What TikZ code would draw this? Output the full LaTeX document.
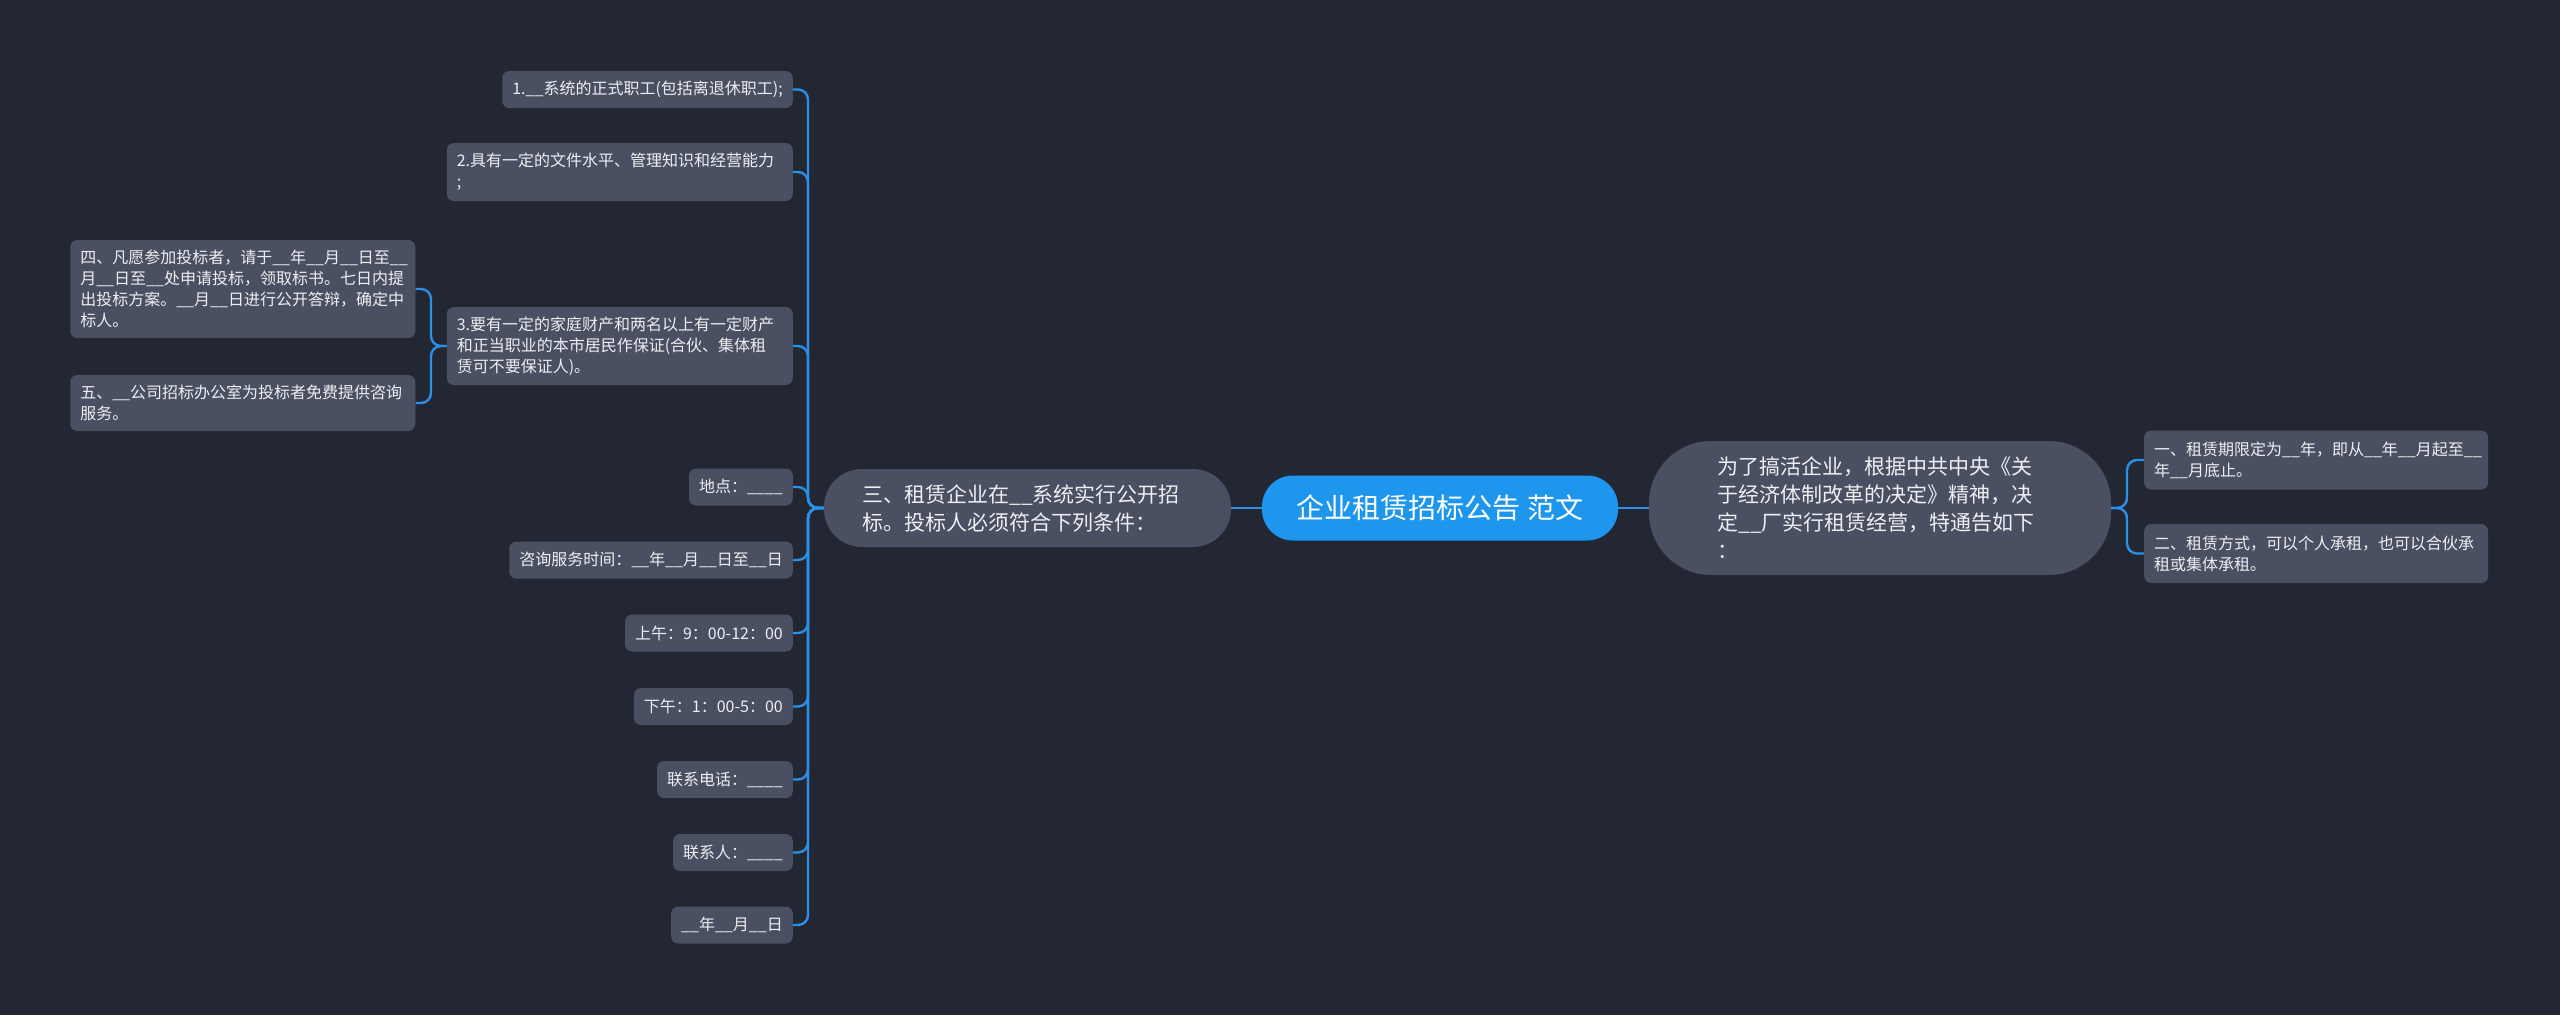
\documentclass[tikz,border=0pt]{standalone}
\usepackage{fontspec}
\setmainfont{Noto Sans CJK SC}
\definecolor{bg}{HTML}{222733}
\definecolor{boxc}{HTML}{4A5062}
\definecolor{rootc}{HTML}{1E96EE}
\definecolor{wire}{HTML}{2C8FE6}
\definecolor{txt}{HTML}{EDEFF2}
\begin{document}
\begin{tikzpicture}[x=1pt,y=-1pt,
  leaf/.style={fill=boxc, rounded corners=7pt, text=txt, font=\fontsize{16}{21}\selectfont, inner xsep=10pt, inner ysep=0pt, align=left, minimum height=37pt},
  big/.style={fill=boxc, text=txt, font=\fontsize{21}{28}\selectfont, inner sep=0pt, align=left},
  rootn/.style={fill=rootc, text=white, font=\fontsize{28}{34}\selectfont, inner sep=0pt, minimum width=356pt, minimum height=65pt, rounded corners=31pt},
  conn/.style={draw=wire, line width=2.4pt, rounded corners=10pt}]
\fill[bg] (0,0) rectangle (2560,1015);
\useasboundingbox (0,0) rectangle (2560,1015);

% root and main branches
\node[rootn] (root) at (1440,508) {企业租赁招标公告 范文};
\node[big, minimum width=407pt, minimum height=78pt, text width=330pt, rounded corners=38pt] (L1) at (1027.5,508) {三、租赁企业在\_\_系统实行公开招\\标。投标人必须符合下列条件：};
\node[big, minimum width=462pt, minimum height=134pt, text width=325pt, rounded corners=62pt] (R1) at (1880,508) {为了搞活企业，根据中共中央《关\\于经济体制改革的决定》精神，决\\定\_\_厂实行租赁经营，特通告如下\\：};

% right leaves
\node[leaf, anchor=west, text width=324pt, minimum height=59pt] (Ra) at (2144,460) {一、租赁期限定为\_\_年，即从\_\_年\_\_月起至\_\_\\年\_\_月底止。};
\node[leaf, anchor=west, text width=324pt, minimum height=59pt] (Rb) at (2144,553.5) {二、租赁方式，可以个人承租，也可以合伙承\\租或集体承租。};

% left leaves
\node[leaf, anchor=east] (c1) at (793,89.5) {1.\_\_系统的正式职工(包括离退休职工);};
\node[leaf, anchor=east, text width=326pt, minimum height=58pt] (c2) at (793,172) {2.具有一定的文件水平、管理知识和经营能力\\;};
\node[leaf, anchor=east, text width=326pt, minimum height=78pt] (c3) at (793,346) {3.要有一定的家庭财产和两名以上有一定财产\\和正当职业的本市居民作保证(合伙、集体租\\赁可不要保证人)。};
\node[leaf, anchor=east] (c4) at (793,487) {地点：\_\_\_\_};
\node[leaf, anchor=east] (c5) at (793,560) {咨询服务时间：\_\_年\_\_月\_\_日至\_\_日};
\node[leaf, anchor=east] (c6) at (793,633) {上午：9：00-12：00};
\node[leaf, anchor=east] (c7) at (793,706.5) {下午：1：00-5：00};
\node[leaf, anchor=east] (c8) at (793,779.5) {联系电话：\_\_\_\_};
\node[leaf, anchor=east] (c9) at (793,852.5) {联系人：\_\_\_\_};
\node[leaf, anchor=east] (c10) at (793,925) {\_\_年\_\_月\_\_日};

% grandchildren of c3
\node[leaf, anchor=east, text width=325pt, minimum height=98pt] (g1) at (415.5,289) {四、凡愿参加投标者，请于\_\_年\_\_月\_\_日至\_\_\\月\_\_日至\_\_处申请投标，领取标书。七日内提\\出投标方案。\_\_月\_\_日进行公开答辩，确定中\\标人。};
\node[leaf, anchor=east, text width=325pt, minimum height=56pt] (g2) at (415.5,403) {五、\_\_公司招标办公室为投标者免费提供咨询\\服务。};

% bus points
\coordinate (busL) at (808,508);
\coordinate (busR) at (2127,508);
\coordinate (bus3) at (431,346);

% connectors
\draw[conn] (root.west) -- (L1.east);
\draw[conn] (root.east) -- (R1.west);
\foreach \c in {c1,c2,c3,c4,c5,c6,c7,c8,c9,c10}
  \draw[conn] (L1.west) -- (busL) |- (\c.east);
\foreach \c in {Ra,Rb}
  \draw[conn] (R1.east) -- (busR) |- (\c.west);
\foreach \c in {g1,g2}
  \draw[conn] (c3.west) -- (bus3) |- (\c.east);
\end{tikzpicture}
\end{document}
